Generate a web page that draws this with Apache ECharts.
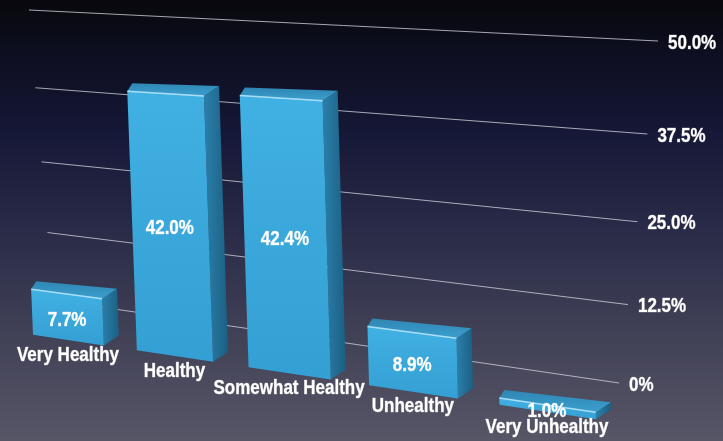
<!DOCTYPE html>
<html>
<head>
<meta charset="utf-8">
<script src="https://cdn.jsdelivr.net/npm/echarts@6/dist/echarts.min.js"></script>
<style>
  html, body { margin: 0; padding: 0; background: #000; }
  #chart { width: 723px; height: 441px; }
</style>
</head>
<body>
<div id="chart"></div>
<script>
// Health self-rating survey, share of respondents per answer
const categories = ['Very Healthy', 'Healthy', 'Somewhat Healthy', 'Unhealthy', 'Very Unhealthy'];
const shares = [7.7, 42.0, 42.4, 8.9, 1.0];
const valueLabels = ['7.7%', '42.0%', '42.4%', '8.9%', '1.0%'];
const tickValues = [0, 12.5, 25, 37.5, 50];
const tickLabels = ['0%', '12.5%', '25.0%', '37.5%', '50.0%'];

// Flat layout of the hidden cartesian grid; the perspective views map it onto the page.
const GRID = { left: 100, top: 50, width: 500, height: 300 };
const FONT = '"Liberation Sans", Arial, sans-serif';
const TEXT_SQUEEZE = 0.85;

// Solve the 3x3 projective transform taking four source points onto four target points.
function homography(src, dst) {
  const A = [], b = [];
  for (let i = 0; i < 4; i++) {
    const [x, y] = src[i], [u, v] = dst[i];
    A.push([x, y, 1, 0, 0, 0, -u * x, -u * y]); b.push(u);
    A.push([0, 0, 0, x, y, 1, -v * x, -v * y]); b.push(v);
  }
  const n = 8;
  for (let c = 0; c < n; c++) {
    let p = c;
    for (let r = c + 1; r < n; r++) if (Math.abs(A[r][c]) > Math.abs(A[p][c])) p = r;
    [A[c], A[p]] = [A[p], A[c]]; [b[c], b[p]] = [b[p], b[c]];
    for (let r = 0; r < n; r++) {
      if (r === c) continue;
      const f = A[r][c] / A[c][c];
      for (let k = c; k < n; k++) A[r][k] -= f * A[c][k];
      b[r] -= f * b[c];
    }
  }
  const h = b.map((val, i) => val / A[i][i]);
  return function (pt) {
    const x = pt[0], y = pt[1];
    const w = h[6] * x + h[7] * y + 1;
    return [(h[0] * x + h[1] * y + h[2]) / w, (h[3] * x + h[4] * y + h[5]) / w];
  };
}

const gl = GRID.left, gr = GRID.left + GRID.width, gt = GRID.top, gb = GRID.top + GRID.height;
const catStep = GRID.width / categories.length;

// Back wall carrying the gridlines
const wallView = homography(
  [[gl, gt], [gr, gt], [gl, gb], [gr, gb]],
  [[29, 10], [658, 41], [53, 300], [619, 383]]
);
// Plane of the bars' front faces
const frontView = homography(
  [[gl + catStep / 2, gb], [gr - catStep / 2, gb], [gl + catStep / 2, gt], [gr - catStep / 2, gt]],
  [[68, 340], [547, 412], [56, 38], [540, 60]]
);

const BAR_RATIO = 0.69;
const DEPTH_LEFT = [5, -8];
const DEPTH_RIGHT = [15, -10];
const add = (p, d) => [p[0] + d[0], p[1] + d[1]];

// Condensed white label centred (or left-aligned) on a point
function label(text, p, align) {
  return {
    type: 'text',
    x: p[0], y: p[1],
    scaleX: TEXT_SQUEEZE,
    style: {
      text: text, x: 0, y: 0,
      align: align, verticalAlign: 'middle',
      fill: '#ffffff', fontSize: 20, fontWeight: 'bold', fontFamily: FONT,
      stroke: 'rgba(255,255,255,0.55)', lineWidth: 0.6
    }
  };
}

function renderGridLine(params, api) {
  const cs = params.coordSys;
  const y = api.coord([0, api.value(1)])[1];
  const a = wallView([cs.x, y]);
  const z = wallView([cs.x + cs.width, y]);
  return {
    type: 'group',
    children: [
      {
        type: 'line',
        shape: { x1: a[0], y1: a[1], x2: z[0], y2: z[1] },
        style: { stroke: 'rgba(205,205,215,0.8)', lineWidth: 1 }
      },
      label(tickLabels[params.dataIndex], [z[0] + 10, z[1] + 2], 'left')
    ]
  };
}

function renderBar(params, api) {
  const i = api.value(0), v = api.value(1);
  const base = api.coord([i, 0]);
  const top = api.coord([i, v]);
  const half = api.size([1, 0])[0] * BAR_RATIO / 2;
  const xl = base[0] - half, xr = base[0] + half;

  const bl = frontView([xl, base[1]]), br = frontView([xr, base[1]]);
  const tl = frontView([xl, top[1]]), tr = frontView([xr, top[1]]);
  const tlB = add(tl, DEPTH_LEFT), trB = add(tr, DEPTH_RIGHT), brB = add(br, DEPTH_RIGHT);

  const mid = frontView([base[0], (base[1] + top[1]) / 2]);
  const foot = frontView([base[0], base[1]]);

  return {
    type: 'group',
    children: [
      {
        type: 'polygon',
        shape: { points: [tr, br, brB, trB] },
        style: {
          fill: { type: 'linear', x: 0, y: 0, x2: 1, y2: 0,
            colorStops: [{ offset: 0, color: '#2a80ab' }, { offset: 1, color: '#1c5f83' }] }
        }
      },
      {
        type: 'polygon',
        shape: { points: [tl, tr, trB, tlB] },
        style: {
          fill: { type: 'linear', x: 0, y: 1, x2: 0, y2: 0,
            colorStops: [{ offset: 0, color: '#3b9fce' }, { offset: 1, color: '#2f86b3' }] }
        }
      },
      {
        type: 'polygon',
        shape: { points: [tl, tr, br, bl] },
        style: {
          fill: { type: 'linear', x: 0, y: 0, x2: 0, y2: 1,
            colorStops: [{ offset: 0, color: '#41b0e2' }, { offset: 1, color: '#349fd3' }] }
        }
      },
      {
        type: 'line',
        shape: { x1: tl[0], y1: tl[1], x2: tr[0], y2: tr[1] },
        style: { stroke: 'rgba(190,235,255,0.85)', lineWidth: 1.5 }
      },
      label(valueLabels[params.dataIndex], [mid[0], mid[1] + 3], 'center'),
      label(categories[params.dataIndex], [foot[0], foot[1] + 15], 'center')
    ]
  };
}

const chart = echarts.init(document.getElementById('chart'), null, { renderer: 'canvas' });
chart.setOption({
  animation: false,
  backgroundColor: {
    type: 'linear', x: 0, y: 0, x2: 0, y2: 1,
    colorStops: [
      { offset: 0, color: '#08080d' },
      { offset: 0.12, color: '#0d0e20' },
      { offset: 0.3, color: '#151836' },
      { offset: 0.5, color: '#272946' },
      { offset: 0.75, color: '#404056' },
      { offset: 1, color: '#575667' }
    ]
  },
  grid: { left: GRID.left, top: GRID.top, width: GRID.width, height: GRID.height },
  xAxis: { type: 'category', data: categories, show: false, boundaryGap: true },
  yAxis: { type: 'value', min: 0, max: 50, show: false },
  series: [
    {
      type: 'custom',
      renderItem: renderGridLine,
      clip: false,
      silent: true,
      data: tickValues.map(v => [0, v])
    },
    {
      type: 'custom',
      renderItem: renderBar,
      clip: false,
      data: shares.map((v, i) => [i, v])
    }
  ]
});
</script>
</body>
</html>
